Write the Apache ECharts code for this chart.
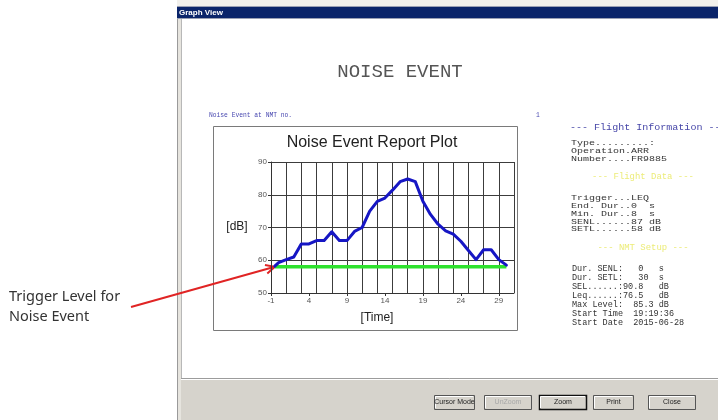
<!DOCTYPE html>
<html>
<head>
<meta charset="utf-8">
<title>Noise Event</title>
<script src="https://cdn.jsdelivr.net/npm/echarts@6.0.0/dist/echarts.min.js"></script>
<style>
html,body{margin:0;padding:0;background:#fff;}
#main{width:718px;height:420px;}
</style>
</head>
<body>
<div id="main"></div>
<script>
// measured noise level over the event, seconds / dB
const timeSec = [-0.5, 0, 1, 2, 3, 4, 5, 6, 7, 8, 9, 10, 11, 12, 13, 14, 15, 16, 17, 18, 19, 20, 21, 22, 23, 24, 25, 26, 27, 28, 29, 30];
const levelDb = [58.2, 59.3, 60.2, 61, 65, 65, 66, 66, 68.7, 66, 66, 68.8, 70, 75, 78, 79, 81.4, 84, 84.8, 84, 78, 74, 71, 69, 68, 65.8, 63, 60.2, 63.2, 63.2, 60.2, 58.5];
const triggerDb = 58;
const yTicks = [50, 60, 70, 80, 90];
const xTickLabels = [-1, 4, 9, 14, 19, 24, 29];
const xMax = 31;
const xGridStep = 2;

const flightInfo = ['Type.........:', 'Operation.ARR', 'Number....FR9885'];
const flightData = ['Trigger...LEQ', 'End. Dur..0  s', 'Min. Dur..8  s', 'SENL......87 dB', 'SETL......58 dB'];
const nmtSetup = ['Dur. SENL:   0   s', 'Dur. SETL:   30  s', 'SEL......:90.8   dB', 'Leq......:76.5   dB',
  'Max Level:  85.3 dB', 'Start Time  19:19:36', 'Start Date  2015-06-28'];
const buttons = ['Cursor Mode', 'UnZoom', 'Zoom', 'Print', 'Close'];

// ticks are counted from min, so shift time so that the first label sits on 0
const shift = -xTickLabels[0];
const labelStep = xTickLabels[1] - xTickLabels[0];

const mono = '"Liberation Mono", "DejaVu Sans Mono", monospace';
const sans = '"Liberation Sans", Arial, sans-serif';

function txt(x, y, s, font, fill, align, extra) {
  return Object.assign({
    type: 'text', x: x, y: y, silent: true,
    style: {text: s, font: font, fill: fill,
      textAlign: align || 'left', align: align || 'left',
      textVerticalAlign: 'middle', verticalAlign: 'middle'}
  }, extra || {});
}
function rect(x, y, w, h, fill, stroke, lw) {
  return {type: 'rect', silent: true, shape: {x: x, y: y, width: w, height: h},
    style: {fill: fill || 'none', stroke: stroke || 'none', lineWidth: lw || 1}};
}
function line(x1, y1, x2, y2, color, lw) {
  return {type: 'line', silent: true, shape: {x1: x1, y1: y1, x2: x2, y2: y2},
    style: {stroke: color, lineWidth: lw || 1}};
}

const els = [];
// window frame
els.push(rect(177, 0, 541, 7, '#f1f0ec'));
els.push(rect(177, 6, 541, 1, '#9aa0b4'));
els.push(rect(177, 7, 541, 11, '#0a246a'));
els.push(rect(177, 18, 541, 1, '#9aa0b4'));
els.push(txt(179, 12.5, 'Graph View', 'bold 8px ' + sans, '#fff'));
els.push(rect(177, 19, 1, 401, '#9a9a9a'));
els.push(rect(178, 19, 3, 401, '#e6e4de'));
els.push(rect(181, 19, 1, 359, '#b8b8b8'));
// bottom button panel
els.push(rect(181, 378, 537, 42, '#d6d3cc'));
els.push(line(181, 378.5, 718, 378.5, '#9c9c9c'));
els.push(line(181, 379.5, 718, 379.5, '#ffffff'));
const btnX = [434, 484, 539, 593, 648];
const btnW = [40, 47, 47, 40, 47];
buttons.forEach(function (b, i) {
  const x = btnX[i], y = 395, w = btnW[i], h = 14;
  const focus = b === 'Zoom';
  els.push(rect(x + 0.5, y + 0.5, w, h, '#d6d3cc', focus ? '#111' : '#555', focus ? 1.5 : 1));
  els.push(line(x + 1.5, y + 1.5, x + w - 1, y + 1.5, '#fff'));
  els.push(line(x + 1.5, y + 1.5, x + 1.5, y + h - 1, '#fff'));
  els.push(txt(x + w / 2 + 0.5, y + h / 2 + 0.5, b, '7px ' + sans, b === 'UnZoom' ? '#a8a8a8' : '#222', 'center'));
});

// report header
els.push(txt(400, 72, 'NOISE EVENT', '19px ' + mono, '#555', 'center'));
els.push(txt(209, 115, 'Noise Event at NMT no.', '6.3px ' + mono, '#4848b0'));
els.push(txt(536, 115, '1', '6.3px ' + mono, '#4848b0'));

// chart box
els.push(rect(213.5, 126.5, 304, 204, null, '#7a7a7a', 1));
els.push(txt(372, 143, 'Noise Event Report Plot', '16px ' + sans, '#222', 'center'));
els.push(txt(237, 227, '[dB]', '12px ' + sans, '#222', 'center'));
els.push(txt(377, 318, '[Time]', '12px ' + sans, '#222', 'center'));

// right side information
els.push(txt(570, 128, '--- Flight Information ---', '8.5px ' + mono, '#4646a8', 'left', {scaleX: 1.18}));
flightInfo.forEach(function (s, i) {
  els.push(txt(571, 143 + i * 7.8, s, '8px ' + mono, '#333', 'left', {scaleX: 1.25}));
});
els.push(txt(643, 177, '--- Flight Data ---', '8.5px ' + mono, '#ecec78', 'center', {scaleX: 1.05}));
flightData.forEach(function (s, i) {
  els.push(txt(571, 198 + i * 7.8, s, '8px ' + mono, '#333', 'left', {scaleX: 1.25}));
});
els.push(txt(643, 248, '--- NMT Setup ---', '8.5px ' + mono, '#ecec78', 'center', {scaleX: 1.05}));
nmtSetup.forEach(function (s, i) {
  els.push(txt(572, 269 + i * 9, s, '8.5px ' + mono, '#333', 'left', {scaleX: 1}));
});

// annotation text on the left
els.push(txt(9, 297, 'Trigger Level for', '14.5px "Noto Sans", sans-serif', '#333'));
els.push(txt(9, 317, 'Noise Event', '14.5px "Noto Sans", sans-serif', '#333'));

const chart = echarts.init(document.getElementById('main'));
const axisColor = '#333';
const option = {
  animation: false,
  backgroundColor: '#fff',
  grid: {left: 271, top: 162, width: 243, height: 131},
  xAxis: [{
    type: 'value', min: 0, max: xMax + shift, interval: labelStep,
    axisLine: {show: true, lineStyle: {color: axisColor, width: 1}},
    axisTick: {show: true, length: 3, lineStyle: {color: axisColor}},
    axisLabel: {fontSize: 8, color: '#555', fontFamily: 'Liberation Sans', margin: 4,
      showMaxLabel: false, formatter: function (v) { return String(v - shift); }},
    splitLine: {show: false}
  }, {
    type: 'value', min: 0, max: xMax + shift, interval: xGridStep, position: 'top',
    axisLine: {show: false}, axisTick: {show: false}, axisLabel: {show: false},
    splitLine: {show: true, lineStyle: {color: '#3c3c3c', width: 1}}
  }],
  yAxis: {
    type: 'value', min: yTicks[0], max: yTicks[yTicks.length - 1], interval: yTicks[1] - yTicks[0],
    axisLine: {show: true, lineStyle: {color: axisColor, width: 1}},
    axisTick: {show: true, length: 3, lineStyle: {color: axisColor}},
    axisLabel: {fontSize: 8, color: '#555', fontFamily: 'Liberation Sans', margin: 4},
    splitLine: {show: true, lineStyle: {color: '#3c3c3c', width: 1}}
  },
  series: [{
    name: 'Trigger level', type: 'line', xAxisIndex: 0, symbol: 'none', silent: true,
    lineStyle: {color: '#2ee22e', width: 3.5},
    data: [[timeSec[0] + shift, triggerDb], [timeSec[timeSec.length - 1] + shift, triggerDb]]
  }, {
    name: 'Noise level', type: 'line', xAxisIndex: 0, symbol: 'none', silent: true,
    lineStyle: {color: '#1616c4', width: 3, join: 'round', cap: 'round'},
    data: timeSec.map(function (t, i) { return [t + shift, levelDb[i]]; })
  }],
  graphic: {elements: els}
};
chart.setOption(option);

// red arrow pointing at the start of the trigger line
const tip = chart.convertToPixel({xAxisIndex: 0, yAxisIndex: 0}, [timeSec[0] + shift, triggerDb]);
const start = [131, 307];
const dx = tip[0] - start[0], dy = tip[1] - start[1];
const len = Math.sqrt(dx * dx + dy * dy);
const ux = dx / len, uy = dy / len;
const head = 10, spread = 0.45;
function wing(sign) {
  const c = Math.cos(sign * spread), s = Math.sin(sign * spread);
  return [tip[0] - head * (ux * c - uy * s), tip[1] - head * (ux * s + uy * c)];
}
const arrowEls = els.concat([
  {type: 'polyline', silent: true, shape: {points: [start, tip]}, style: {stroke: '#e02424', lineWidth: 2}},
  {type: 'polyline', silent: true, shape: {points: [wing(1), tip, wing(-1)]}, style: {stroke: '#e02424', lineWidth: 2, fill: 'none'}}
]);
chart.setOption({graphic: {elements: arrowEls}});
</script>
</body>
</html>
